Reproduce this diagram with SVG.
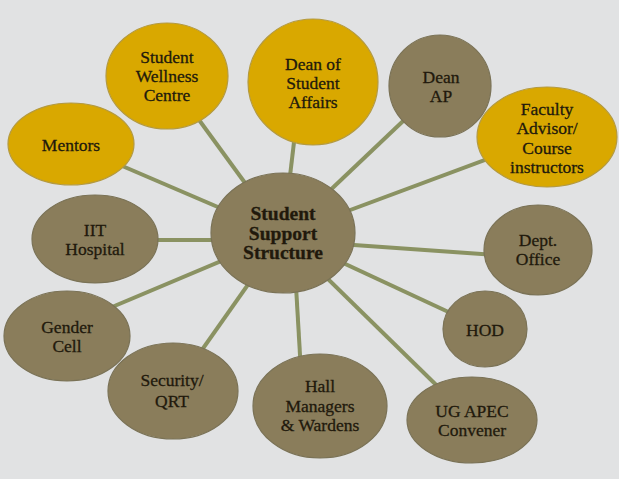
<svg xmlns="http://www.w3.org/2000/svg" width="619" height="479" viewBox="0 0 619 479">
<style>
.bg{fill:#e1e2e3}
.c{stroke:#8a9262;stroke-width:4;fill:none}
.y{fill:#d9a800;stroke:#b49a40;stroke-width:1.2}
.o{fill:#8a7d5b;stroke:#7a7256;stroke-width:1.2}
text{font-family:"Liberation Serif","Times New Roman",serif;font-size:17.5px;fill:#21190c;stroke:#21190c;stroke-width:0.3;text-anchor:middle}
.b{font-weight:bold;font-size:19.5px}
</style>
<rect class="bg" x="0" y="0" width="619" height="479"/>
<g id="connectors">
<line class="c" x1="283" y1="235" x2="71" y2="144"/>
<line class="c" x1="283" y1="235" x2="167" y2="76"/>
<line class="c" x1="283" y1="235" x2="299" y2="100"/>
<line class="c" x1="283" y1="235" x2="440" y2="86"/>
<line class="c" x1="283" y1="235" x2="547" y2="137"/>
<line class="c" x1="283" y1="240" x2="538" y2="258"/>
<line class="c" x1="283" y1="235" x2="485" y2="329"/>
<line class="c" x1="283" y1="235" x2="472" y2="420"/>
<line class="c" x1="293" y1="235" x2="303" y2="406"/>
<line class="c" x1="283" y1="235" x2="173" y2="391"/>
<line class="c" x1="283" y1="235" x2="67" y2="326"/>
<line class="c" x1="283" y1="240" x2="95" y2="240"/>
</g>
<g id="mentors"><ellipse class="y" cx="71" cy="144" rx="63" ry="41"/><text x="71" y="151">Mentors</text></g>
<g id="wellness"><ellipse class="y" cx="167" cy="76" rx="61" ry="53"/><text x="167" y="63">Student</text><text x="167" y="82">Wellness</text><text x="167" y="101">Centre</text></g>
<g id="dsa"><ellipse class="y" cx="313" cy="82" rx="65" ry="63"/><text x="313" y="70">Dean of</text><text x="313" y="89">Student</text><text x="313" y="108">Affairs</text></g>
<g id="deanap"><ellipse class="o" cx="440" cy="86" rx="51" ry="51"/><text x="441" y="83">Dean</text><text x="441" y="102">AP</text></g>
<g id="faculty"><ellipse class="y" cx="547" cy="137" rx="70" ry="50"/><text x="547" y="115">Faculty</text><text x="547" y="134">Advisor/</text><text x="547" y="154">Course</text><text x="547" y="173">instructors</text></g>
<g id="hospital"><ellipse class="o" cx="95" cy="239" rx="63" ry="44"/><text x="95" y="236">IIT</text><text x="95" y="255">Hospital</text></g>
<g id="center"><ellipse class="o" cx="283" cy="233" rx="72" ry="60"/><text class="b" x="283" y="220">Student</text><text class="b" x="283" y="240">Support</text><text class="b" x="283" y="259">Structure</text></g>
<g id="dept"><ellipse class="o" cx="538" cy="250" rx="54" ry="45"/><text x="538" y="246">Dept.</text><text x="538" y="265">Office</text></g>
<g id="hod"><ellipse class="o" cx="485" cy="329" rx="42" ry="38"/><text x="485" y="336">HOD</text></g>
<g id="gender"><ellipse class="o" cx="67" cy="336" rx="63" ry="45"/><text x="67" y="333">Gender</text><text x="67" y="352">Cell</text></g>
<g id="security"><ellipse class="o" cx="173" cy="391" rx="65" ry="48"/><text x="172" y="386">Security/</text><text x="172" y="407">QRT</text></g>
<g id="hall"><ellipse class="o" cx="320" cy="406" rx="67" ry="52"/><text x="320" y="392">Hall</text><text x="320" y="412">Managers</text><text x="320" y="431">&amp; Wardens</text></g>
<g id="ugapec"><ellipse class="o" cx="472" cy="420" rx="65" ry="43"/><text x="472" y="417">UG APEC</text><text x="472" y="436">Convener</text></g>
</svg>
